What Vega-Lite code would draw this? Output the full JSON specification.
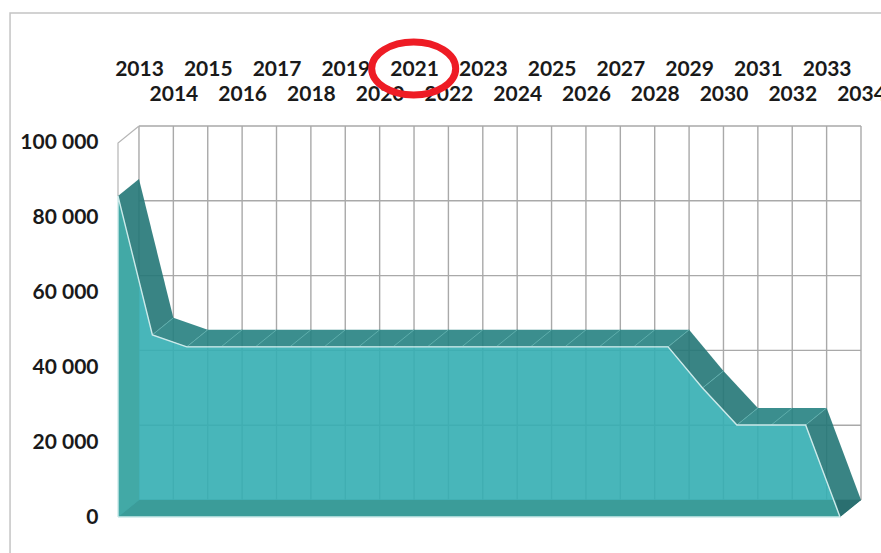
{"$schema":"https://vega.github.io/schema/vega-lite/v6.json","width":743,"height":391,"autosize":"none","padding":{"left":118,"top":126,"right":20,"bottom":36},"background":"white","config":{"view":{"stroke":null}},
"datasets":{
"backYears":[{"year":2013.61,"lo":4545,"hi":104545},{"year":2014.61,"lo":4545,"hi":104545},{"year":2015.61,"lo":4545,"hi":104545},{"year":2016.61,"lo":4545,"hi":104545},{"year":2017.61,"lo":4545,"hi":104545},{"year":2018.61,"lo":4545,"hi":104545},{"year":2019.61,"lo":4545,"hi":104545},{"year":2020.61,"lo":4545,"hi":104545},{"year":2021.61,"lo":4545,"hi":104545},{"year":2022.61,"lo":4545,"hi":104545},{"year":2023.61,"lo":4545,"hi":104545},{"year":2024.61,"lo":4545,"hi":104545},{"year":2025.61,"lo":4545,"hi":104545},{"year":2026.61,"lo":4545,"hi":104545},{"year":2027.61,"lo":4545,"hi":104545},{"year":2028.61,"lo":4545,"hi":104545},{"year":2029.61,"lo":4545,"hi":104545},{"year":2030.61,"lo":4545,"hi":104545},{"year":2031.61,"lo":4545,"hi":104545},{"year":2032.61,"lo":4545,"hi":104545},{"year":2033.61,"lo":4545,"hi":104545},{"year":2034.61,"lo":4545,"hi":104545}],
"backLevels":[{"value":4545,"from":2013.61,"to":2034.61},{"value":24545,"from":2013.61,"to":2034.61},{"value":44545,"from":2013.61,"to":2034.61},{"value":64545,"from":2013.61,"to":2034.61},{"value":84545,"from":2013.61,"to":2034.61},{"value":104545,"from":2013.61,"to":2034.61}],
"wall":[{"year":2013,"value":85800,"seq":0},{"year":2013,"value":100000,"seq":1},{"year":2013.61,"value":104545,"seq":2}],
"ribbon":[
{"poly":"a","part":"slope","seq":0,"year":2013,"value":85800},{"poly":"a","part":"slope","seq":1,"year":2014,"value":48700},{"poly":"a","part":"slope","seq":2,"year":2014.61,"value":53245},{"poly":"a","part":"slope","seq":3,"year":2013.61,"value":90345},
{"poly":"b","part":"mid","seq":0,"year":2014,"value":48700},{"poly":"b","part":"mid","seq":1,"year":2015,"value":45500},{"poly":"b","part":"mid","seq":2,"year":2015.61,"value":50045},{"poly":"b","part":"mid","seq":3,"year":2014.61,"value":53245},
{"poly":"c","part":"flat","seq":0,"year":2015,"value":45500},{"poly":"c","part":"flat","seq":1,"year":2029,"value":45500},{"poly":"c","part":"flat","seq":2,"year":2029.61,"value":50045},{"poly":"c","part":"flat","seq":3,"year":2015.61,"value":50045},
{"poly":"d","part":"slope","seq":0,"year":2029,"value":45500},{"poly":"d","part":"slope","seq":1,"year":2030,"value":34500},{"poly":"d","part":"slope","seq":2,"year":2030.61,"value":39045},{"poly":"d","part":"slope","seq":3,"year":2029.61,"value":50045},
{"poly":"e","part":"slope","seq":0,"year":2030,"value":34500},{"poly":"e","part":"slope","seq":1,"year":2031,"value":24600},{"poly":"e","part":"slope","seq":2,"year":2031.61,"value":29145},{"poly":"e","part":"slope","seq":3,"year":2030.61,"value":39045},
{"poly":"f","part":"flat","seq":0,"year":2031,"value":24600},{"poly":"f","part":"flat","seq":1,"year":2033,"value":24600},{"poly":"f","part":"flat","seq":2,"year":2033.61,"value":29145},{"poly":"f","part":"flat","seq":3,"year":2031.61,"value":29145},
{"poly":"g","part":"slope","seq":0,"year":2033,"value":24600},{"poly":"g","part":"slope","seq":1,"year":2034,"value":0},{"poly":"g","part":"slope","seq":2,"year":2034.61,"value":4545},{"poly":"g","part":"slope","seq":3,"year":2033.61,"value":29145}],
"face":[{"year":2013,"value":0,"seq":0},{"year":2013,"value":85800,"seq":1},{"year":2014,"value":48700,"seq":2},{"year":2015,"value":45500,"seq":3},{"year":2029,"value":45500,"seq":4},{"year":2030,"value":34500,"seq":5},{"year":2031,"value":24600,"seq":6},{"year":2033,"value":24600,"seq":7},{"year":2034,"value":0,"seq":8},{"year":2013,"value":0,"seq":9}],
"solid":[
{"poly":"side","part":"side","seq":0,"year":2013,"value":0},{"poly":"side","part":"side","seq":1,"year":2013,"value":85800},{"poly":"side","part":"side","seq":2,"year":2013.61,"value":63170},{"poly":"side","part":"side","seq":3,"year":2013.61,"value":4545},
{"poly":"floor","part":"floor","seq":0,"year":2013,"value":0},{"poly":"floor","part":"floor","seq":1,"year":2013.61,"value":4545},{"poly":"floor","part":"floor","seq":2,"year":2033.81,"value":4545},{"poly":"floor","part":"floor","seq":3,"year":2034,"value":0},
{"poly":"end","part":"end","seq":0,"year":2034,"value":0},{"poly":"end","part":"end","seq":1,"year":2034.61,"value":4545},{"poly":"end","part":"end","seq":2,"year":2033.87,"value":4545}],
"seams":[
{"s":2014,"year":2014,"value":48700,"seq":0},{"s":2014,"year":2014.61,"value":53245,"seq":1},
{"s":2015,"year":2015,"value":45500,"seq":0},{"s":2015,"year":2015.61,"value":50045,"seq":1},
{"s":2016,"year":2016,"value":45500,"seq":0},{"s":2016,"year":2016.61,"value":50045,"seq":1},
{"s":2017,"year":2017,"value":45500,"seq":0},{"s":2017,"year":2017.61,"value":50045,"seq":1},
{"s":2018,"year":2018,"value":45500,"seq":0},{"s":2018,"year":2018.61,"value":50045,"seq":1},
{"s":2019,"year":2019,"value":45500,"seq":0},{"s":2019,"year":2019.61,"value":50045,"seq":1},
{"s":2020,"year":2020,"value":45500,"seq":0},{"s":2020,"year":2020.61,"value":50045,"seq":1},
{"s":2021,"year":2021,"value":45500,"seq":0},{"s":2021,"year":2021.61,"value":50045,"seq":1},
{"s":2022,"year":2022,"value":45500,"seq":0},{"s":2022,"year":2022.61,"value":50045,"seq":1},
{"s":2023,"year":2023,"value":45500,"seq":0},{"s":2023,"year":2023.61,"value":50045,"seq":1},
{"s":2024,"year":2024,"value":45500,"seq":0},{"s":2024,"year":2024.61,"value":50045,"seq":1},
{"s":2025,"year":2025,"value":45500,"seq":0},{"s":2025,"year":2025.61,"value":50045,"seq":1},
{"s":2026,"year":2026,"value":45500,"seq":0},{"s":2026,"year":2026.61,"value":50045,"seq":1},
{"s":2027,"year":2027,"value":45500,"seq":0},{"s":2027,"year":2027.61,"value":50045,"seq":1},
{"s":2028,"year":2028,"value":45500,"seq":0},{"s":2028,"year":2028.61,"value":50045,"seq":1},
{"s":2029,"year":2029,"value":45500,"seq":0},{"s":2029,"year":2029.61,"value":50045,"seq":1},
{"s":2030,"year":2030,"value":34500,"seq":0},{"s":2030,"year":2030.61,"value":39045,"seq":1},
{"s":2031,"year":2031,"value":24600,"seq":0},{"s":2031,"year":2031.61,"value":29145,"seq":1},
{"s":2032,"year":2032,"value":24600,"seq":0},{"s":2032,"year":2032.61,"value":29145,"seq":1},
{"s":2033,"year":2033,"value":24600,"seq":0},{"s":2033,"year":2033.61,"value":29145,"seq":1}]
},
"data":{"values":[{"year":2013,"value":0}]},
"encoding":{
"x":{"field":"year","type":"quantitative","title":null,"axis":null,"scale":{"domain":[2013,2034.61],"nice":false,"zero":false}},
"y":{"field":"value","type":"quantitative","title":null,"scale":{"domain":[0,104545],"nice":false,"zero":false},"axis":{"values":[0,20000,40000,60000,80000,100000],"labelExpr":"replace(format(datum.value,','),',',' ')","grid":false,"ticks":false,"domain":false,"labelPadding":20,"labelFont":"Lato","labelFontWeight":"bold","labelFontSize":21,"labelColor":"#1a1a1a","title":null}}
},
"layer":[
{"data":{"values":[{"x1":2009.86,"x2":2046,"y1":-30000,"y2":134760}]},"mark":{"type":"rect","fill":null,"stroke":"#c4c4c4","strokeWidth":1.5,"clip":false},
"encoding":{"x":{"field":"x1","type":"quantitative","title":null,"axis":null},"x2":{"field":"x2"},"y":{"field":"y1","type":"quantitative","title":null},"y2":{"field":"y2"}}},
{"data":{"name":"backYears"},"mark":{"type":"rule","stroke":"#a9a9a9","strokeWidth":1.4},
"encoding":{"x":{"field":"year","type":"quantitative","title":null,"axis":{"orient":"top","values":[2013,2015,2017,2019,2021,2023,2025,2027,2029,2031,2033],"format":"d","labelOffset":21,"offset":47,"labelPadding":0,"ticks":false,"domain":false,"grid":false,"labelOverlap":false,"labelFlush":false,"labelBound":false,"labelFont":"Lato","labelFontWeight":"bold","labelFontSize":21,"labelColor":"#1a1a1a","title":null}},"y":{"field":"lo","type":"quantitative","title":null},"y2":{"field":"hi"}}},
{"data":{"name":"backLevels"},"mark":{"type":"rule","stroke":"#a9a9a9","strokeWidth":1.4},
"encoding":{"x":{"field":"from","type":"quantitative","title":null,"axis":{"orient":"top","values":[2014,2016,2018,2020,2022,2024,2026,2028,2030,2032,2034],"format":"d","labelOffset":21,"offset":22,"labelPadding":0,"ticks":false,"domain":false,"grid":false,"labelOverlap":false,"labelFlush":false,"labelBound":false,"labelFont":"Lato","labelFontWeight":"bold","labelFontSize":21,"labelColor":"#1a1a1a","title":null}},"x2":{"field":"to"},"y":{"field":"value","type":"quantitative"}}},
{"data":{"name":"wall"},"mark":{"type":"line","color":"#b5b5b5","strokeWidth":1.2},"encoding":{"order":{"field":"seq"}}},
{"data":{"name":"ribbon"},"mark":{"type":"line","strokeWidth":0,"opacity":0.9},"encoding":{"detail":{"field":"poly"},"order":{"field":"seq"},"fill":{"field":"part","type":"nominal","legend":null,"scale":{"domain":["slope","mid","flat"],"range":["#247777","#268080","#268282"]}}}},
{"data":{"name":"seams"},"mark":{"type":"line","color":"#5eaeac","strokeWidth":1},"encoding":{"detail":{"field":"s"},"order":{"field":"seq"}}},
{"data":{"name":"face"},"mark":{"type":"line","strokeWidth":0,"opacity":0.9,"fill":"#34aeb3"},"encoding":{"order":{"field":"seq"}}},
{"data":{"name":"solid"},"mark":{"type":"line","strokeWidth":0},"encoding":{"detail":{"field":"poly"},"order":{"field":"seq"},"fill":{"field":"part","type":"nominal","legend":null,"scale":{"domain":["side","floor","end"],"range":["#42a9a6","#3b9c99","#2a6f70"]}}}},
{"data":{"name":"face"},"mark":{"type":"line","color":"#cdeaea","strokeWidth":1.4},"encoding":{"order":{"field":"seq"}}},
{"data":{"values":[{"year":2021.6,"value":119920}]},"mark":{"type":"point","filled":false,"clip":false,"shape":"M -1 0 A 1 0.63 0 1 1 1 0 A 1 0.63 0 1 1 -1 0 Z","size":7056,"stroke":"#ee1c25","strokeWidth":7,"opacity":1}}
],
"resolve":{"axis":{"x":"independent"},"scale":{"fill":"independent"}}
}
